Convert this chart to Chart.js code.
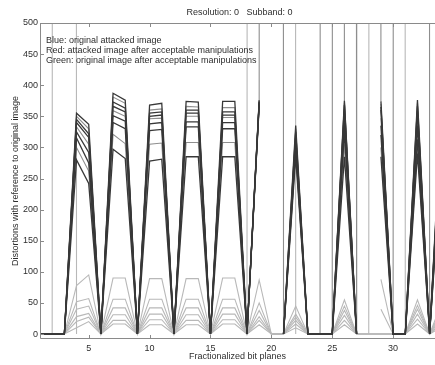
<!DOCTYPE html>
<html>
<head>
<meta charset="utf-8">
<script src="https://cdn.jsdelivr.net/npm/chart.js@4/dist/chart.umd.min.js"></script>
<style>
  html, body { margin: 0; padding: 0; background: #fff; }
  #wrap { width: 435px; height: 365px; position: relative; }
</style>
</head>
<body>
<div id="wrap"><canvas id="chart"></canvas></div>
<script>
// values far above the axis limit: they show up as vertical strokes
const OFF = 100000;
const _ = null;

const planes = [1, 2, 3, 4, 5, 6, 7, 8, 9, 10, 11, 12, 13, 14, 15, 16, 17,
  18, 19, 20, 21, 22, 23, 24, 25, 26, 27, 28, 29, 30, 31, 32, 33, 34];
const xTicks = [5, 10, 15, 20, 25, 30];
const yTicks = [0, 50, 100, 150, 200, 250, 300, 350, 400, 450, 500];

const legendLines = [
  "Blue: original attacked image",
  "Red: attacked image after acceptable manipulations",
  "Green: original image after acceptable manipulations",
];

// Blue: original attacked image
const blueLines = [
  [0,0,0,355,337,0,387,376,0,368,371,0,374,373,0,374,374,0,376,_,0,335,0,0,0,375,0,_,374,0,0,376,0,370],
  [0,0,0,345,322,0,373,363,0,355,357,0,360,360,0,357,357,0,374,_,0,325,0,0,0,368,0,_,365,0,0,366,0,355],
  [0,0,0,340,316,0,366,357,0,350,352,0,355,355,0,352,352,0,373,_,0,318,0,0,0,360,0,_,360,0,0,358,0,345],
  [0,0,0,325,292,0,351,342,0,338,340,0,341,341,0,340,340,0,371,_,0,305,0,0,0,340,0,_,335,0,0,335,0,325],
  [0,0,0,315,275,0,340,330,0,327,329,0,333,333,0,330,330,0,370,_,0,298,0,0,0,325,0,_,320,0,0,313,0,310],
  [0,0,0,280,242,0,297,282,0,278,281,0,285,285,0,285,285,0,366,_,0,285,0,0,0,285,0,_,285,0,0,290,0,290],
];

// Red: attacked image after acceptable manipulations
const redLines = [
  [0,0,0,350,330,0,381,371,0,360,362,0,366,365,0,364,364,0,375,_,0,330,0,0,0,372,0,_,370,0,0,372,0,362],
  [0,0,0,333,305,0,359,350,0,346,347,0,350,350,0,348,348,0,372,_,0,310,0,0,0,352,0,_,347,0,0,348,0,335],
  [0,0,0,300,262,0,321,306,0,305,307,0,308,308,0,308,308,0,368,_,0,292,0,0,0,305,0,_,300,0,0,300,0,300],
  [_,_,_,_,_,_,_,_,_,_,_,_,_,_,_,_,_,_,375,OFF,0,_,_,0,OFF,375,0,OFF,374,_,_,_,_,_],
  [_,_,_,_,_,_,_,_,_,_,_,_,_,_,_,_,_,_,_,_,_,_,_,_,0,OFF,0,_,_,0,OFF,OFF,0,_],
];

// Green: original image after acceptable manipulations
const greenLines = [
  [0,0,0,78,95,0,90,90,0,89,89,0,89,89,0,90,90,0,87,0,0,45,0,0,0,55,0,_,88,0,0,55,0,50],
  [0,0,0,52,57,0,56,56,0,56,56,0,56,56,0,56,56,0,50,0,0,32,0,0,0,45,0,_,40,0,0,46,0,40],
  [0,0,0,40,45,0,42,42,0,42,42,0,42,42,0,42,42,0,38,0,0,27,0,0,0,38,0,0,0,0,0,40,0,32],
  [0,0,0,28,33,0,31,31,0,32,32,0,31,31,0,32,32,0,28,0,0,22,0,0,0,30,0,0,0,0,0,32,0,25],
  [0,0,0,20,27,0,22,22,0,23,23,0,22,22,0,23,23,0,22,0,0,16,0,0,0,22,0,0,0,0,0,24,0,18],
  [0,0,0,10,20,0,16,16,0,15,15,0,15,15,0,16,16,0,15,0,0,10,0,0,0,15,0,0,0,0,0,16,0,12],
  [0,0,OFF,0,_,_,_,_,_,_,_,_,_,_,_,_,_,0,OFF,OFF,OFF,0,_,_,_,_,_,0,OFF,OFF,0,_,_,_],
];

const BLUE = "#383838";
const RED = "#8e8e8e";
const GREEN = "#b8b8b8";
const TEXT = "#2e2e2e";
const FRAME = "#8a8a8a";

Chart.defaults.font.family = "'Liberation Sans', Arial, sans-serif";
Chart.defaults.font.size = 9;
Chart.defaults.color = TEXT;

const makeLine = (values, color, width) => ({
  data: values.map((v, i) => ({ x: planes[i], y: v })),
  borderColor: color,
  borderWidth: width,
  pointRadius: 0,
  fill: false,
  tension: 0,
  spanGaps: false,
});

const datasets = [
  ...blueLines.map((v) => makeLine(v, BLUE, 1.3)),
  ...redLines.map((v) => makeLine(v, RED, 1.1)),
  ...greenLines.map((v) => makeLine(v, GREEN, 1.1)),
];

// matlab-like box, inward ticks, title and text legend
const matlabFrame = {
  id: "matlabFrame",
  afterDraw(chart) {
    const { ctx, chartArea: a, scales } = chart;
    ctx.save();
    ctx.strokeStyle = FRAME;
    ctx.lineWidth = 1;
    ctx.beginPath();
    ctx.moveTo(a.right, a.top + 0.5);
    ctx.lineTo(a.left + 0.5, a.top + 0.5);
    ctx.lineTo(a.left + 0.5, a.bottom - 0.5);
    ctx.lineTo(a.right, a.bottom - 0.5);
    xTicks.forEach((v) => {
      const px = Math.round(scales.x.getPixelForValue(v)) + 0.5;
      ctx.moveTo(px, a.bottom);
      ctx.lineTo(px, a.bottom - 4);
      ctx.moveTo(px, a.top);
      ctx.lineTo(px, a.top + 4);
    });
    yTicks.forEach((v) => {
      const py = Math.round(scales.y.getPixelForValue(v)) + 0.5;
      ctx.moveTo(a.left, py);
      ctx.lineTo(a.left + 4, py);
    });
    ctx.stroke();

    ctx.fillStyle = TEXT;
    ctx.font = "9px 'Liberation Sans', Arial, sans-serif";
    ctx.textBaseline = "middle";
    ctx.textAlign = "center";
    ctx.fillText("Resolution: 0   Subband: 0", (a.left + a.right) / 2 + 2, 13);
    ctx.textAlign = "left";
    legendLines.forEach((t, i) => {
      ctx.fillText(t, a.left + 6, a.top + 18 + i * 10);
    });
    ctx.restore();
  },
};

new Chart(document.getElementById("chart"), {
  type: "line",
  data: { datasets },
  options: {
    responsive: true,
    maintainAspectRatio: false,
    animation: false,
    layout: { padding: { top: 23, left: 0, right: 0, bottom: 0 } },
    plugins: {
      legend: { display: false },
      title: { display: false },
      tooltip: { enabled: false },
    },
    scales: {
      x: {
        type: "linear",
        min: 1,
        max: 33.44,
        grid: { display: false, drawTicks: false },
        border: { display: false },
        ticks: { padding: 4, maxRotation: 0, autoSkip: false },
        afterBuildTicks(scale) {
          scale.ticks = xTicks.map((v) => ({ value: v }));
        },
        afterFit(scale) {
          scale.height = 26;
        },
        title: {
          display: true,
          text: "Fractionalized bit planes",
          padding: { top: 0, bottom: 3 },
          font: { size: 9 },
        },
      },
      y: {
        type: "linear",
        min: -8,
        max: 500,
        grid: { display: false, drawTicks: false },
        border: { display: false },
        ticks: { padding: 2 },
        afterBuildTicks(scale) {
          scale.ticks = yTicks.map((v) => ({ value: v }));
        },
        afterFit(scale) {
          scale.width = 40;
        },
        title: {
          display: true,
          text: "Distortions with reference to original image",
          padding: { top: 10, bottom: 0 },
          font: { size: 9 },
        },
      },
    },
  },
  plugins: [matlabFrame],
});
</script>
</body>
</html>
